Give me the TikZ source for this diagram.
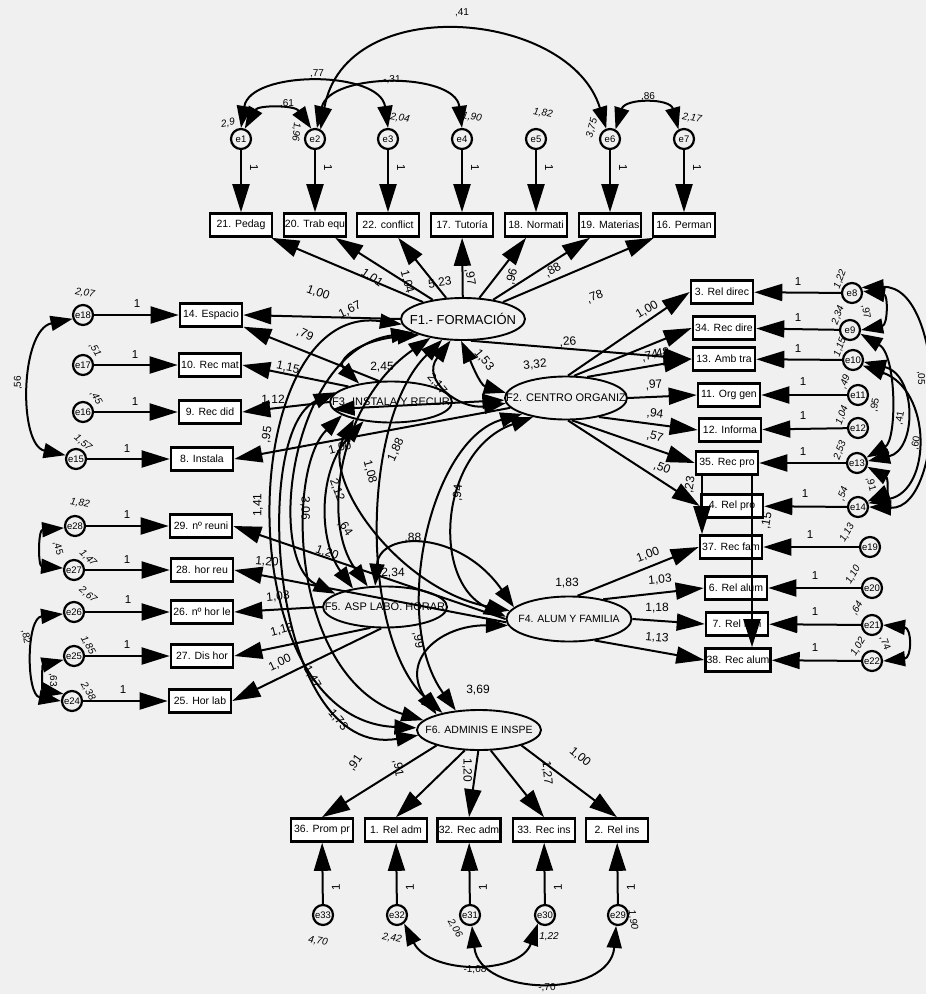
\documentclass[tikz,border=0pt]{standalone}
\usepackage{fontspec}
\setmainfont{Liberation Sans}
\usetikzlibrary{arrows.meta,shapes.geometric,calc}
\definecolor{bg}{RGB}{240,240,240}
\tikzset{
  box/.style={draw, line width=2.6pt, rectangle, minimum width=62pt, minimum height=23pt, inner sep=1pt, fill=white, font=\fontsize{10.5}{10.5}\selectfont},
  fac/.style={draw, ellipse, line width=1.9pt, inner sep=0pt},
  err/.style={draw, circle, line width=2.2pt, minimum size=20pt, inner sep=0pt, font=\fontsize{9.5}{9.5}\selectfont},
  ld/.style={line width=2pt, -{Triangle[length=28pt,width=17pt]}},
  cv/.style={line width=2pt, {Triangle[length=22pt,width=15pt]}-{Triangle[length=22pt,width=15pt]}},
  lab/.style={font=\fontsize{12}{12}\selectfont, inner sep=0pt},
  vlab/.style={font=\fontsize{10}{10}\selectfont, inner sep=0pt},
  ilab/.style={font=\fontsize{10}{10}\selectfont\itshape, inner sep=0pt},
  one/.style={font=\fontsize{11.5}{11.5}\selectfont, inner sep=0pt},
}
\newcommand{\mylab}[5]{\node[lab,rotate=#4] (#1) at (#2,#3) {#5};}
\newcommand{\myvar}[5]{\node[vlab,rotate=#4] (#1) at (#2,#3) {#5};}
\newcommand{\myivar}[5]{\node[ilab,rotate=#4] (#1) at (#2,#3) {#5};}
\newcommand{\myone}[4]{\node[one,rotate=#4] (#1) at (#2,#3) {1};}
\begin{document}
\begin{tikzpicture}[x=1pt,y=-1pt]
\useasboundingbox (0,0) rectangle (926,994);
\fill[bg] (0,0) rectangle (926,994);

% ---------- factors
\node[fac, minimum width=124pt, minimum height=42pt, font=\fontsize{13}{13}\selectfont] (F1) at (463,319) {\makebox[0pt]{F1.- FORMACIÓN}};
\node[fac, minimum width=122pt, minimum height=43pt, font=\fontsize{11}{11}\selectfont] (F2) at (566,398) {\makebox[0pt]{F2. CENTRO ORGANIZ}};
\node[fac, minimum width=122pt, minimum height=41pt, font=\fontsize{11}{11}\selectfont] (F3) at (391,402) {\makebox[0pt]{F3. INSTALA Y RECUR}};
\node[fac, minimum width=124pt, minimum height=41pt, font=\fontsize{11}{11}\selectfont] (F5) at (385,607) {\makebox[0pt]{F5. ASP LABO. HORAR}};
\node[fac, minimum width=125pt, minimum height=45pt, font=\fontsize{10.5}{10.5}\selectfont] (F4) at (569,619) {\makebox[0pt]{F4. ALUM Y FAMILIA}};
\node[fac, minimum width=124pt, minimum height=40pt, font=\fontsize{10.5}{10.5}\selectfont] (F6) at (479,730) {\makebox[0pt]{F6. ADMINIS E INSPE}};

% ---------- top
\node[err] (e1) at (241,139) {e1};
\node[err] (e2) at (315,139) {e2};
\node[err] (e3) at (388,139) {e3};
\node[err] (e4) at (462,139) {e4};
\node[err] (e5) at (536,139) {e5};
\node[err] (e6) at (610,139) {e6};
\node[err] (e7) at (684,139) {e7};
\node[box] (b21) at (241,225) {21. Pedag};
\node[box] (b20) at (315,225) {20. Trab equ};
\node[box] (b22) at (388,225) {22. conflict};
\node[box] (b17) at (462,225) {17. Tutoría};
\node[box] (b18) at (536,225) {18. Normati};
\node[box] (b19) at (610,225) {19. Materias};
\node[box] (b16) at (684,225) {16. Perman};

% ---------- left
\node[err] (e18) at (83,315) {e18};
\node[err] (e17) at (83,365) {e17};
\node[err] (e16) at (83,412) {e16};
\node[err] (e15) at (76,459) {e15};
\node[box] (b14) at (211,315) {14. Espacio};
\node[box] (b10) at (210,365) {10. Rec mat};
\node[box] (b9) at (210,412) {9. Rec did};
\node[box] (b8) at (202,459) {8. Instala};
\node[err] (e28) at (75,526) {e28};
\node[err] (e27) at (74,570) {e27};
\node[err] (e26) at (74,612) {e26};
\node[err] (e25) at (74,656) {e25};
\node[err] (e24) at (72,701) {e24};
\node[box] (b29) at (201,526) {29. nº reuni};
\node[box] (b28) at (202,570) {28. hor reu};
\node[box] (b26) at (202,612) {26. nº hor le};
\node[box] (b27) at (202,656) {27. Dis hor};
\node[box] (b25) at (200,701) {25. Hor lab};

% ---------- right
\node[box] (b3) at (722,292) {3. Rel direc};
\node[box] (b34) at (724,328) {34. Rec dire};
\node[box] (b13) at (724,359) {13. Amb tra};
\node[box] (b11) at (729,395) {11. Org gen};
\node[box] (b12) at (730,430) {12. Informa};
\node[box] (b35) at (727,463) {35. Rec pro};
\node[box] (b4) at (732,506) {4. Rel pro};
\node[box] (b37) at (731,547) {37. Rec fam};
\node[box] (b6) at (736,588) {6. Rel alum};
\node[box] (b7) at (737,624) {7. Rel fam};
\node[box] (b38) at (738,660) {38. Rec alum};
\node[err] (e8) at (852,293) {e8};
\node[err] (e9) at (850,330) {e9};
\node[err] (e10) at (853,360) {e10};
\node[err] (e11) at (858,395) {e11};
\node[err] (e12) at (858,428) {e12};
\node[err] (e13) at (857,463) {e13};
\node[err] (e14) at (858,507) {e14};
\node[err] (e19) at (870,547) {e19};
\node[err] (e20) at (872,588) {e20};
\node[err] (e21) at (872,625) {e21};
\node[err] (e22) at (872,661) {e22};

% ---------- bottom
\node[box] (b36) at (322,830) {36. Prom pr};
\node[box] (b1) at (396,830) {1. Rel adm};
\node[box] (b32) at (469,830) {32. Rec adm};
\node[box] (b33) at (544,830) {33. Rec ins};
\node[box] (b2) at (617,830) {2. Rel ins};
\node[err] (e33) at (323,915) {e33};
\node[err] (e32) at (397,915) {e32};
\node[err] (e31) at (470,915) {e31};
\node[err] (e30) at (545,915) {e30};
\node[err] (e29) at (618,915) {e29};

% ---------- error -> indicator
\foreach \a/\b in {e1/b21,e2/b20,e3/b22,e4/b17,e5/b18,e6/b19,e7/b16,
  e18/b14,e17/b10,e16/b9,e15/b8,e28/b29,e27/b28,e26/b26,e25/b27,e24/b25,
  e8/b3,e9/b34,e10/b13,e11/b11,e12/b12,e13/b35,e14/b4,e19/b37,e20/b6,e21/b7,e22/b38,
  e33/b36,e32/b1,e31/b32,e30/b33,e29/b2}
  \draw[ld] (\a) -- (\b);

% ---------- error covariances
\draw[cv] (e1.70) .. controls (258,105) and (295,105) .. (e2.110);
\draw[cv] (e1.90) .. controls (250,70) and (380,70) .. (e3.90);
\draw[cv] (e2.80) .. controls (330,72) and (455,72) .. (e4.90);
\draw[cv] (e2.60) .. controls (345,-10) and (570,10) .. (e6.110);
\draw[cv] (e6.60) .. controls (625,98) and (670,98) .. (e7.120);
\draw[cv] (e18.200) .. controls (20,330) and (18,445) .. (e15.160);
\draw[cv] (e28.190) .. controls (38,530) and (38,566) .. (e27.170);
\draw[cv] (e26.190) .. controls (26,618) and (26,695) .. (e24.180);
\draw[cv] (e25.200) .. controls (42,665) and (42,690) .. (e24.140);
\draw[cv] (e8.10) .. controls (888,295) and (888,325) .. (e9.0);
\draw[cv] (e8.30) .. controls (948,285) and (948,510) .. (e14.0);
\draw[cv] (e9.-20) .. controls (897,355) and (897,440) .. (e13.30);
\draw[cv] (e10.-10) .. controls (917,375) and (917,450) .. (e13.10);
\draw[cv] (e10.-30) .. controls (932,390) and (932,490) .. (e14.20);
\draw[cv] (e13.-20) .. controls (888,478) and (888,492) .. (e14.30);
\draw[cv] (e21.0) .. controls (912,628) and (912,658) .. (e22.0);
\draw[cv] (e32.-50) .. controls (430,975) and (520,975) .. (e30.-130);
\draw[cv] (e31.-80) .. controls (480,998) and (610,998) .. (e29.-100);

% ---------- loadings
\draw[ld] (F1) -- (b21);
\draw[ld] (F1) -- (b20);
\draw[ld] (F1) -- (b22);
\draw[ld] (F1) -- (b17);
\draw[ld] (F1) -- (b18);
\draw[ld] (F1) -- (b19);
\draw[ld] (F1) -- (b16);
\draw[ld] (F1.180) -- (b14.east);
\draw[ld] (F1.290) -- (b13.west);
\draw[ld] (F3.120) -- (b14.-20);
\draw[ld] (F3.160) -- (b10.east);
\draw[ld] (F3.180) -- (b9.east);
\draw[ld] (F2.190) -- (b8.east);
\draw[ld] (F2.85) -- (b3.west);
\draw[ld] (F2.70) -- (b34.west);
\draw[ld] (F2.45) -- (b13.west);
\draw[ld] (F2.0) -- (b11.west);
\draw[ld] (F2.-30) -- (b12.west);
\draw[ld] (F2.-75) -- (b35.west);
\draw[ld] (F2.-85) -- (b4.west);
\draw[ld] ([xshift=-25pt]b35.south) -- ([xshift=-29pt]b37.north);
\draw[ld] ([xshift=25pt]b35.south) -- ([xshift=14pt]b38.north);
\draw[ld] (F4.70) -- (b37.west);
\draw[ld] (F4.30) -- (b6.west);
\draw[ld] (F4.0) -- (b7.west);
\draw[ld] (F4.-40) -- (b38.west);
\draw[ld] (F4.180) -- (b29.east);
\draw[ld] (F4.183) -- (b28.east);
\draw[ld] (F5.180) -- (b26.east);
\draw[ld] (F5.235) -- (b27.east);
\draw[ld] (F5.260) -- (b25.east);
\draw[ld] (F6.200) -- (b36.north);
\draw[ld] (F6.235) -- (b1.north);
\draw[ld] (F6.268) -- (b32.north);
\draw[ld] (F6.300) -- (b33.north);
\draw[ld] (F6.340) -- (b2.north);

% ---------- factor covariances
\draw[cv] (F1.185) .. controls (235,300) and (225,720) .. (F6.178);
\draw[cv] (F1.195) .. controls (290,350) and (265,560) .. (F5.165);
\draw[cv] (F3.170) .. controls (250,430) and (270,760) .. (F6.185);
\draw[cv] (F3.195) .. controls (285,470) and (290,680) .. (F6.170);
\draw[cv] (F1.210) .. controls (340,400) and (320,520) .. (F5.130);
\draw[cv] (F3.205) .. controls (320,480) and (400,590) .. (F4.172);
\draw[cv] (F1.225) .. controls (360,420) and (360,640) .. (F6.155);
\draw[cv] (F2.200) .. controls (430,440) and (390,620) .. (F6.140);
\draw[cv] (F2.210) .. controls (440,450) and (430,580) .. (F4.178);
\draw[cv] (F5.115) .. controls (380,530) and (460,530) .. (F4.168);
\draw[cv] (F6.160) .. controls (400,660) and (440,625) .. (F4.186);
\draw[cv] (F1.265) .. controls (470,360) and (480,385) .. (F2.175);
\draw[cv] (F1.240) .. controls (420,380) and (460,410) .. (F2.185);
\draw[cv] (F1.200) .. controls (360,340) and (335,360) .. (F3.150);
\draw[cv] (F3.187) -- (F2.182);
\draw[cv] (F3.215) .. controls (318,470) and (318,540) .. (F5.150);

% ---------- factor variances
\mylab{vF1}{440}{283}{8}{5,23}
\mylab{vF2}{535}{365}{5}{3,32}
\mylab{vF3}{382}{367}{0}{2,45}
\mylab{vF4}{567}{583}{0}{1,83}
\mylab{vF5}{393}{573}{0}{2,34}
\mylab{vF6}{478}{690}{0}{3,69}

% ---------- loading labels
\mylab{l21}{318}{293}{-20}{1,00}
\mylab{l20}{372}{278}{-35}{1,01}
\mylab{l22}{407}{282}{-75}{1,04}
\mylab{l17}{470}{277}{-80}{,97}
\mylab{l18}{512}{277}{75}{,96}
\mylab{l19}{553}{270}{30}{,88}
\mylab{l16}{595}{297}{20}{,78}
\mylab{l14a}{350}{310}{25}{1,67}
\mylab{l14b}{305}{335}{-25}{,79}
\mylab{l10}{288}{368}{-12}{1,15}
\mylab{l9}{273}{400}{0}{1,12}
\mylab{l8}{340}{448}{15}{1,00}
\mylab{l95}{267}{435}{80}{,95}
\mylab{l13a}{568}{342}{5}{,26}
\mylab{lc12}{484}{360}{-50}{1,53}
\mylab{lc13}{437}{384}{-50}{2,17}
\mylab{l3}{647}{310}{30}{1,00}
\mylab{l34}{650}{356}{12}{,74}
\mylab{l13b}{661}{353}{8}{,48}
\mylab{l11}{654}{385}{5}{,97}
\mylab{l12}{655}{414}{-8}{,94}
\mylab{l35}{655}{437}{-15}{,57}
\mylab{l4}{662}{468}{-22}{,50}
\mylab{l37b}{690}{485}{80}{,23}
\mylab{l38b}{767}{521}{80}{,15}
\mylab{l37}{648}{555}{20}{1,00}
\mylab{l6}{660}{580}{5}{1,03}
\mylab{l7}{657}{608}{0}{1,18}
\mylab{l38}{657}{638}{-5}{1,13}
\mylab{lc1}{258}{505}{90}{1,41}
\mylab{lc2}{305}{508}{-90}{3,06}
\mylab{lc5}{337}{490}{-70}{2,12}
\mylab{lc6}{345}{528}{-55}{,64}
\mylab{lc7}{370}{472}{-75}{1,08}
\mylab{lc8}{396}{450}{65}{1,88}
\mylab{lc9}{458}{493}{85}{,94}
\mylab{lc10}{413}{538}{0}{,88}
\mylab{lc11}{418}{640}{-80}{,99}
\mylab{lc4}{312}{677}{-60}{1,47}
\mylab{lc3}{338}{720}{-50}{1,73}
\mylab{l29}{327}{553}{-20}{1,20}
\mylab{l28}{267}{562}{-5}{1,20}
\mylab{l26}{278}{597}{5}{1,03}
\mylab{l27}{282}{630}{15}{1,13}
\mylab{l25}{280}{663}{25}{1,00}
\mylab{l36}{355}{763}{55}{,91}
\mylab{l1}{398}{768}{-80}{,91}
\mylab{l32}{467}{770}{-90}{1,20}
\mylab{l33}{547}{773}{-85}{1,27}
\mylab{l2}{580}{757}{-40}{1,00}

% ---------- covariance labels
\myvar{k1}{475}{970}{0}{-1,08}
\myvar{k2}{547}{988}{0}{-,70}
\myvar{k3}{287}{104}{0}{,61}
\myvar{k4}{317}{74}{0}{,77}
\myvar{k5}{392}{80}{0}{-,31}
\myvar{k6}{462}{13}{0}{,41}
\myvar{k7}{648}{97}{0}{,86}
\myvar{k8}{18}{383}{90}{,56}
\myvar{k9}{58}{548}{-75}{,45}
\myvar{k10}{26}{637}{-80}{,82}
\myvar{k11}{53}{680}{-90}{,63}
\myvar{k12}{866}{312}{-80}{,97}
\myvar{k13}{921}{378}{-90}{,05}
\myvar{k14}{875}{405}{80}{,95}
\myvar{k15}{900}{418}{80}{,41}
\myvar{k16}{916}{443}{80}{,60}
\myvar{k17}{871}{484}{-75}{,91}
\myvar{k18}{885}{643}{-70}{,74}

% ---------- error variances
\myivar{w1}{228}{123}{10}{2,9}
\myivar{w2}{296}{132}{-95}{1,96}
\myivar{w3}{400}{118}{-10}{2,04}
\myivar{w4}{472}{117}{-10}{1,90}
\myivar{w5}{543}{113}{-10}{1,82}
\myivar{w6}{592}{128}{75}{3,75}
\myivar{w7}{692}{118}{-10}{2,17}
\myivar{w18}{85}{293}{-10}{2,07}
\myivar{w17}{95}{350}{-60}{,51}
\myivar{w16}{96}{398}{-60}{,45}
\myivar{w15}{83}{443}{-40}{1,57}
\myivar{w28}{80}{503}{-10}{1,82}
\myivar{w27}{88}{558}{-45}{1,47}
\myivar{w26}{88}{595}{-40}{2,67}
\myivar{w25}{88}{645}{-60}{1,85}
\myivar{w24}{88}{691}{-60}{2,38}
\myivar{w8}{840}{279}{70}{1,22}
\myivar{w9}{838}{315}{70}{2,34}
\myivar{w10}{840}{347}{70}{1,15}
\myivar{w11}{845}{382}{70}{,49}
\myivar{w12}{842}{415}{70}{1,04}
\myivar{w13}{840}{450}{70}{2,53}
\myivar{w14}{843}{494}{70}{,54}
\myivar{w19}{847}{533}{60}{1,13}
\myivar{w20}{853}{575}{60}{1,10}
\myivar{w21}{857}{608}{60}{,64}
\myivar{w22}{858}{647}{60}{1,02}
\myivar{w33}{318}{941}{-10}{4,70}
\myivar{w32}{392}{938}{-10}{2,42}
\myivar{w31}{455}{928}{-60}{2,06}
\myivar{w30}{549}{937}{0}{1,22}
\myivar{w29}{633}{920}{-80}{1,90}

% ---------- "1" labels
\myone{o1}{254}{168}{-90}
\myone{o2}{328}{168}{-90}
\myone{o3}{401}{168}{-90}
\myone{o4}{475}{168}{-90}
\myone{o5}{549}{168}{-90}
\myone{o6}{623}{168}{-90}
\myone{o7}{697}{168}{-90}
\myone{o18}{137}{304}{0}
\myone{o17}{135}{355}{0}
\myone{o16}{135}{402}{0}
\myone{o15}{127}{449}{0}
\myone{o28}{127}{515}{0}
\myone{o27}{127}{560}{0}
\myone{o26}{128}{600}{0}
\myone{o25}{127}{645}{0}
\myone{o24}{123}{690}{0}
\myone{o8}{798}{282}{0}
\myone{o9}{798}{318}{0}
\myone{o10}{798}{349}{0}
\myone{o11}{803}{382}{0}
\myone{o12}{803}{416}{0}
\myone{o13}{803}{452}{0}
\myone{o14}{805}{494}{0}
\myone{o19}{810}{535}{0}
\myone{o20}{815}{576}{0}
\myone{o21}{815}{612}{0}
\myone{o22}{815}{648}{0}
\myone{o33}{336}{887}{90}
\myone{o32}{410}{887}{90}
\myone{o31}{483}{887}{90}
\myone{o30}{558}{887}{90}
\myone{o29}{631}{887}{90}
\end{tikzpicture}
\end{document}
